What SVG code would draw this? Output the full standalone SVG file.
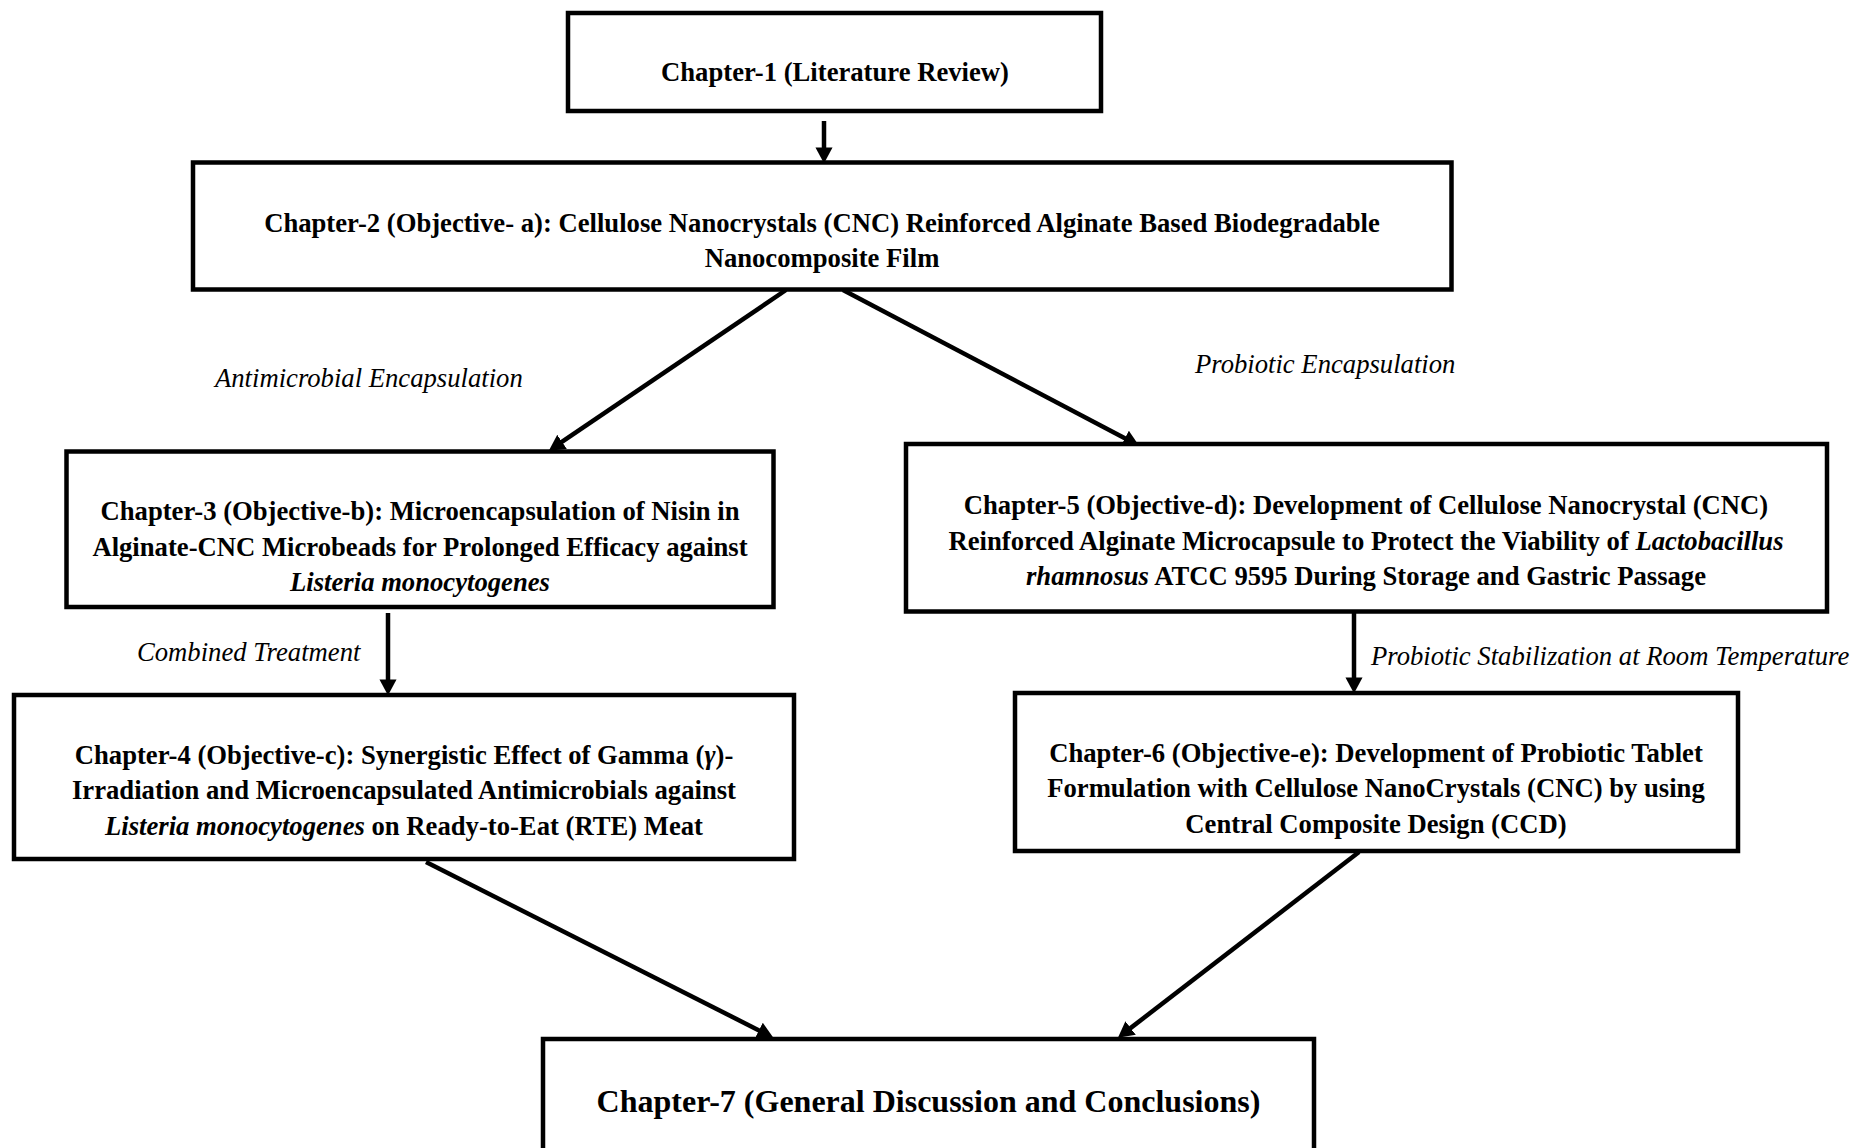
<svg xmlns="http://www.w3.org/2000/svg" width="1856" height="1148" viewBox="0 0 1856 1148">
<style>
.box{fill:#fff;stroke:#000;stroke-width:4.5}
.t{font-family:"Liberation Serif","Times New Roman",serif;font-weight:bold;font-size:26.67px;fill:#000;text-anchor:middle}
.big{font-size:32px}
.lbl{font-family:"Liberation Serif","Times New Roman",serif;font-style:italic;font-size:26.67px;fill:#000}
.i{font-style:italic}
.c{fill:none;stroke:#000;stroke-width:4.5}
</style>
<defs>
<marker id="ah" markerUnits="userSpaceOnUse" markerWidth="16" markerHeight="18" refX="9" refY="8" orient="auto" viewBox="0 0 15 16">
<path d="M0,0 L15,8 L0,16 z" fill="#000"/>
</marker>
</defs>
<rect width="1856" height="1148" fill="#fff"/>
<g id="connectors">
<path class="c" d="M824,121 L824,157" marker-end="url(#ah)"/>
<path class="c" d="M786,290 L554.1,447.2" marker-end="url(#ah)"/>
<path class="c" d="M843,290 L1133.4,442.7" marker-end="url(#ah)"/>
<path class="c" d="M388,613 L388,689" marker-end="url(#ah)"/>
<path class="c" d="M1354,613 L1354,687" marker-end="url(#ah)"/>
<path class="c" d="M426,862 L767.5,1034.7" marker-end="url(#ah)"/>
<path class="c" d="M1359,852 L1123,1033.9" marker-end="url(#ah)"/>
</g>
<g id="labels">
<text class="lbl" x="215" y="387">Antimicrobial Encapsulation</text>
<text class="lbl" x="1195" y="372.5">Probiotic Encapsulation</text>
<text class="lbl" x="137" y="661">Combined Treatment</text>
<text class="lbl" x="1371" y="665">Probiotic Stabilization at Room Temperature</text>
</g>
<g id="ch1">
<rect class="box" x="568" y="13" width="533" height="98"/>
<text class="t" x="835" y="81">Chapter-1 (Literature Review)</text>
</g>
<g id="ch2">
<rect class="box" x="193" y="162.5" width="1258.5" height="127"/>
<text class="t" x="822" y="232">Chapter-2 (Objective- a): Cellulose Nanocrystals (CNC) Reinforced Alginate Based Biodegradable</text>
<text class="t" x="822" y="267">Nanocomposite Film</text>
</g>
<g id="ch3">
<rect class="box" x="66.5" y="451.5" width="707" height="155.5"/>
<text class="t" x="420" y="520">Chapter-3 (Objective-b): Microencapsulation of Nisin in</text>
<text class="t" x="420" y="555.5">Alginate-CNC Microbeads for Prolonged Efficacy against</text>
<text class="t i" x="420" y="591">Listeria monocytogenes</text>
</g>
<g id="ch4">
<rect class="box" x="14" y="695" width="780" height="164"/>
<text class="t" x="404" y="763.5">Chapter-4 (Objective-c): Synergistic Effect of Gamma (<tspan class="i">γ</tspan>)-</text>
<text class="t" x="404" y="799">Irradiation and Microencapsulated Antimicrobials against</text>
<text class="t" x="404" y="834.5"><tspan class="i">Listeria monocytogenes</tspan> on Ready-to-Eat (RTE) Meat</text>
</g>
<g id="ch5">
<rect class="box" x="906" y="444" width="921" height="167.5"/>
<text class="t" x="1366" y="514">Chapter-5 (Objective-d): Development of Cellulose Nanocrystal (CNC)</text>
<text class="t" x="1366" y="550">Reinforced Alginate Microcapsule to Protect the Viability of <tspan class="i">Lactobacillus</tspan></text>
<text class="t" x="1366" y="585"><tspan class="i">rhamnosus</tspan> ATCC 9595 During Storage and Gastric Passage</text>
</g>
<g id="ch6">
<rect class="box" x="1015" y="693" width="723" height="158"/>
<text class="t" x="1376" y="762">Chapter-6 (Objective-e): Development of Probiotic Tablet</text>
<text class="t" x="1376" y="797">Formulation with Cellulose NanoCrystals (CNC) by using</text>
<text class="t" x="1376" y="833">Central Composite Design (CCD)</text>
</g>
<g id="ch7">
<rect class="box" x="543" y="1039" width="771" height="150"/>
<text class="t big" x="928.5" y="1112">Chapter-7 (General Discussion and Conclusions)</text>
</g>
</svg>
